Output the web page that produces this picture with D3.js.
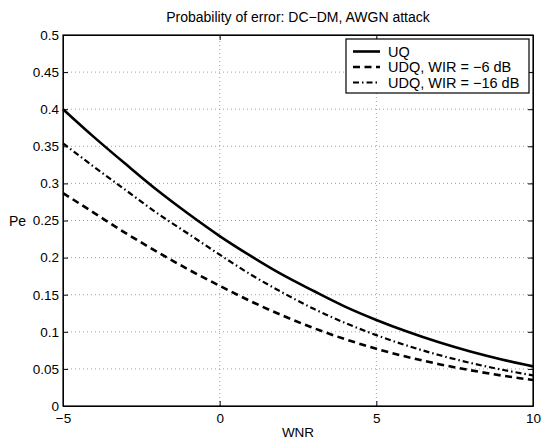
<!DOCTYPE html>
<html>
<head>
<meta charset="utf-8">
<script src="https://cdn.jsdelivr.net/npm/d3@7"></script>
<style>
  body { margin: 0; background: #fff; }
  text { font-family: "Liberation Sans", Arial, sans-serif; fill: #000; }
</style>
</head>
<body>
<svg id="svg"></svg>
<script>
// WNR values (dB)
const wnr = [-5, -4, -3, -2, -1, 0, 1, 2, 3, 4, 5, 6, 7, 8, 9, 10];
// probability of error per curve
const peUQ = [0.400, 0.362, 0.326, 0.291, 0.259, 0.229, 0.202, 0.177, 0.155, 0.134, 0.116, 0.100, 0.0858, 0.0734, 0.0627, 0.0534];
const peWIR6 = [0.287, 0.260, 0.233, 0.208, 0.184, 0.162, 0.141, 0.122, 0.105, 0.0901, 0.0772, 0.0660, 0.0564, 0.0482, 0.0411, 0.0350];
const peWIR16 = [0.354, 0.322, 0.291, 0.260, 0.232, 0.204, 0.177, 0.153, 0.131, 0.112, 0.0955, 0.0811, 0.0687, 0.0581, 0.0490, 0.0413];
const seriesNames = ["UQ", "UDQ, WIR = \u22126 dB", "UDQ, WIR = \u221216 dB"];
const xTicks = [-5, 0, 5, 10];
const yTicks = [0, 0.05, 0.1, 0.15, 0.2, 0.25, 0.3, 0.35, 0.4, 0.45, 0.5];

const width = 542, height = 440;
const margin = { left: 63, right: 9, top: 35, bottom: 34 };

const svg = d3.select("#svg").attr("width", width).attr("height", height);

const x = d3.scaleLinear().domain([-5, 10]).range([margin.left, width - margin.right]);
const y = d3.scaleLinear().domain([0, 0.5]).range([height - margin.bottom, margin.top]);

const fmt = d => String(d).replace("-", "\u2212");

// grid
const grid = svg.append("g").attr("stroke", "#888").attr("stroke-width", 0.8).attr("stroke-dasharray", "1,3");
grid.selectAll(".gx").data(xTicks.slice(1, -1)).enter().append("line")
  .attr("x1", d => x(d)).attr("x2", d => x(d))
  .attr("y1", y(0)).attr("y2", y(0.5));
grid.selectAll(".gy").data(yTicks.slice(1, -1)).enter().append("line")
  .attr("x1", x(-5)).attr("x2", x(10))
  .attr("y1", d => y(d)).attr("y2", d => y(d));

// axes with inward ticks on every side
const axFont = g => g.selectAll("text").attr("font-size", 13.5).attr("font-family", "Liberation Sans, Arial, sans-serif");
svg.append("g").attr("transform", `translate(0,${y(0)})`)
  .call(d3.axisBottom(x).tickValues(xTicks).tickFormat(fmt).tickSizeInner(-5).tickSizeOuter(0).tickPadding(7))
  .call(axFont);
svg.append("g").attr("transform", `translate(0,${y(0.5)})`)
  .call(d3.axisTop(x).tickValues(xTicks).tickFormat("").tickSizeInner(-5).tickSizeOuter(0));
svg.append("g").attr("transform", `translate(${x(-5)},0)`)
  .call(d3.axisLeft(y).tickValues(yTicks).tickFormat(d => String(d)).tickSizeInner(-5).tickSizeOuter(0).tickPadding(4))
  .call(axFont);
svg.append("g").attr("transform", `translate(${x(10)},0)`)
  .call(d3.axisRight(y).tickValues(yTicks).tickFormat("").tickSizeInner(-5).tickSizeOuter(0));
svg.selectAll(".domain").attr("stroke-width", 1);
svg.selectAll(".tick line").attr("stroke-width", 1);

svg.append("rect")
  .attr("x", x(-5)).attr("y", y(0.5))
  .attr("width", x(10) - x(-5)).attr("height", y(0) - y(0.5))
  .attr("fill", "none").attr("stroke", "#000").attr("stroke-width", 1.2);

// curves
const series = [
  { name: seriesNames[0], values: peUQ, dash: null, w: 2.6 },
  { name: seriesNames[1], values: peWIR6, dash: "7,4.5", w: 2.6 },
  { name: seriesNames[2], values: peWIR16, dash: "6,3,1.5,3", w: 2.2 }
];
const line = d3.line().x((d, i) => x(wnr[i])).y(d => y(d)).curve(d3.curveMonotoneX);
svg.append("g").selectAll("path").data(series).enter().append("path")
  .attr("d", d => line(d.values))
  .attr("fill", "none")
  .attr("stroke", "#000")
  .attr("stroke-width", d => d.w)
  .attr("stroke-dasharray", d => d.dash);

// legend
const legend = svg.append("g").attr("transform", "translate(346,39)");
legend.append("rect").attr("width", 183).attr("height", 54)
  .attr("fill", "#fff").attr("stroke", "#000").attr("stroke-width", 1.2);
series.forEach((s, i) => {
  const row = legend.append("g").attr("transform", `translate(0,${12.5 + i * 15.5})`);
  row.append("line").attr("x1", 7).attr("x2", 34)
    .attr("stroke", "#000").attr("stroke-width", s.w).attr("stroke-dasharray", s.dash);
  row.append("text").attr("x", 42).attr("y", 5).attr("font-size", 14.5).text(s.name);
});

// labels
svg.append("text").attr("x", (x(-5) + x(10)) / 2).attr("y", 22)
  .attr("text-anchor", "middle").attr("font-size", 14)
  .text("Probability of error: DC\u2212DM, AWGN attack");
svg.append("text").attr("x", (x(-5) + x(10)) / 2).attr("y", 437)
  .attr("text-anchor", "middle").attr("font-size", 13.5).text("WNR");
svg.append("text").attr("x", 9).attr("y", (y(0) + y(0.5)) / 2 + 5)
  .attr("font-size", 14).text("Pe");
</script>
</body>
</html>
